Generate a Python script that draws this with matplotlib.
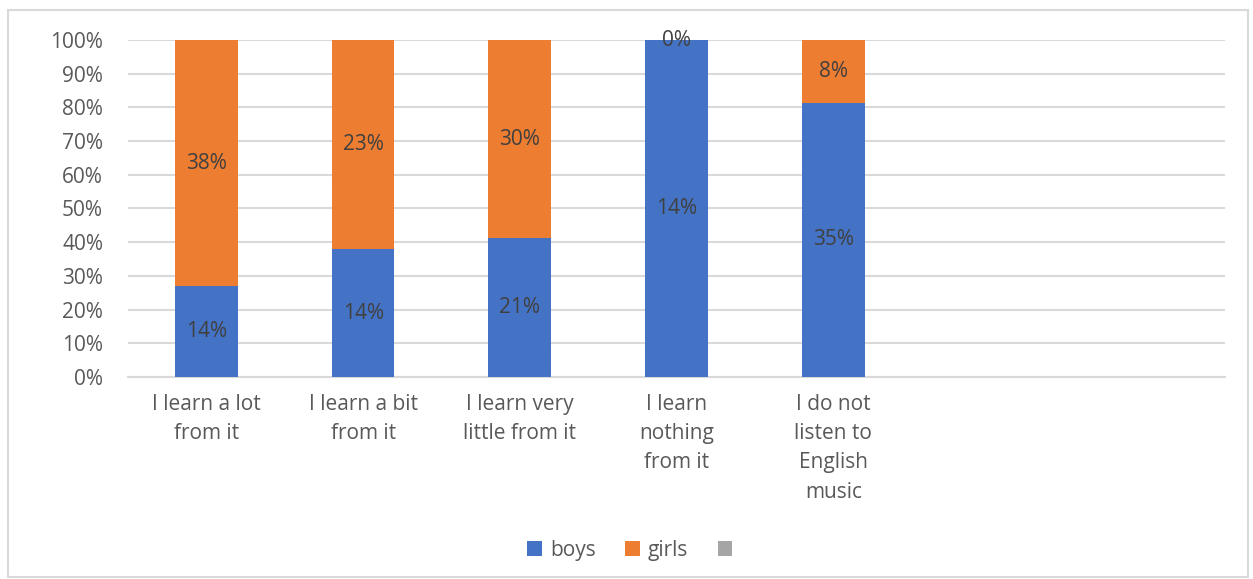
import matplotlib
matplotlib.use('Agg')
import matplotlib.pyplot as plt
import numpy as np
from matplotlib.patches import Rectangle

plt.rcParams['font.family'] = ['Open Sans', 'DejaVu Sans']

# respuestas por categoria (conteos mostrados en las etiquetas)
categories = ['I learn a lot\nfrom it', 'I learn a bit\nfrom it', 'I learn very\nlittle from it',
              'I learn\nnothing\nfrom it', 'I do not\nlisten to\nEnglish\nmusic', '', '']
boys = [14, 14, 21, 14, 35, 0, 0]
girls = [38, 23, 30, 0, 8, 0, 0]
n_labels = 5
series_names = ['boys', 'girls', ' ']
colors = ['#4472C4', '#ED7D31', '#A5A5A5']

boys_a = np.array(boys, dtype=float)
girls_a = np.array(girls, dtype=float)
totals = boys_a + girls_a
safe = np.where(totals > 0, totals, 1)
boys_pct = boys_a / safe * 100
girls_pct = girls_a / safe * 100

fig = plt.figure(figsize=(12.53, 5.79), dpi=100)
ax = fig.add_axes([0.1022, 0.3489, 0.8755, 0.582])

x = np.arange(len(categories))
w = 0.4
ax.bar(x, boys_pct, w, color=colors[0], label=series_names[0], zorder=3)
ax.bar(x, girls_pct, w, bottom=boys_pct, color=colors[1], label=series_names[1], zorder=3)
ax.bar(x, np.zeros(len(x)), w, color=colors[2], label=series_names[2], zorder=3)

# etiquetas de datos en el centro de cada segmento
for i in range(n_labels):
    ax.text(x[i], boys_pct[i] / 2, f'{boys[i]}%', ha='center', va='center',
            fontsize=15, color='#404040', zorder=4)
    ax.text(x[i], boys_pct[i] + girls_pct[i] / 2, f'{girls[i]}%', ha='center', va='center',
            fontsize=15, color='#404040', zorder=4)

ax.set_xlim(-0.5, len(categories) - 0.5)
ax.set_ylim(0, 100)
ax.set_yticks(np.arange(0, 101, 10))
ax.set_yticklabels([f'{v}%' for v in range(0, 101, 10)])
ax.set_xticks(x)
ax.set_xticklabels(categories, linespacing=1.52)
ax.tick_params(axis='y', length=0, pad=18, labelsize=15, labelcolor='#595959')
ax.tick_params(axis='x', length=0, pad=12, labelsize=15, labelcolor='#595959')
ax.yaxis.grid(True, color='#D9D9D9', linewidth=1.5, zorder=0)
for s in ['top', 'right', 'left']:
    ax.spines[s].set_visible(False)
ax.spines['bottom'].set_color('#D9D9D9')
ax.spines['bottom'].set_linewidth(1.5)

fig.legend(loc='center', bbox_to_anchor=(0.508, 0.05), ncol=3, frameon=False,
           fontsize=15, labelcolor='#595959', handlelength=0.7, handleheight=0.7,
           handletextpad=0.4, columnspacing=1.4)

# borde del area del grafico
fig.patches.append(Rectangle((0.006, 0.003), 0.99, 0.98, transform=fig.transFigure,
                             fill=False, edgecolor='#D9D9D9', linewidth=1.5))

fig.savefig('out.png', dpi=100)
